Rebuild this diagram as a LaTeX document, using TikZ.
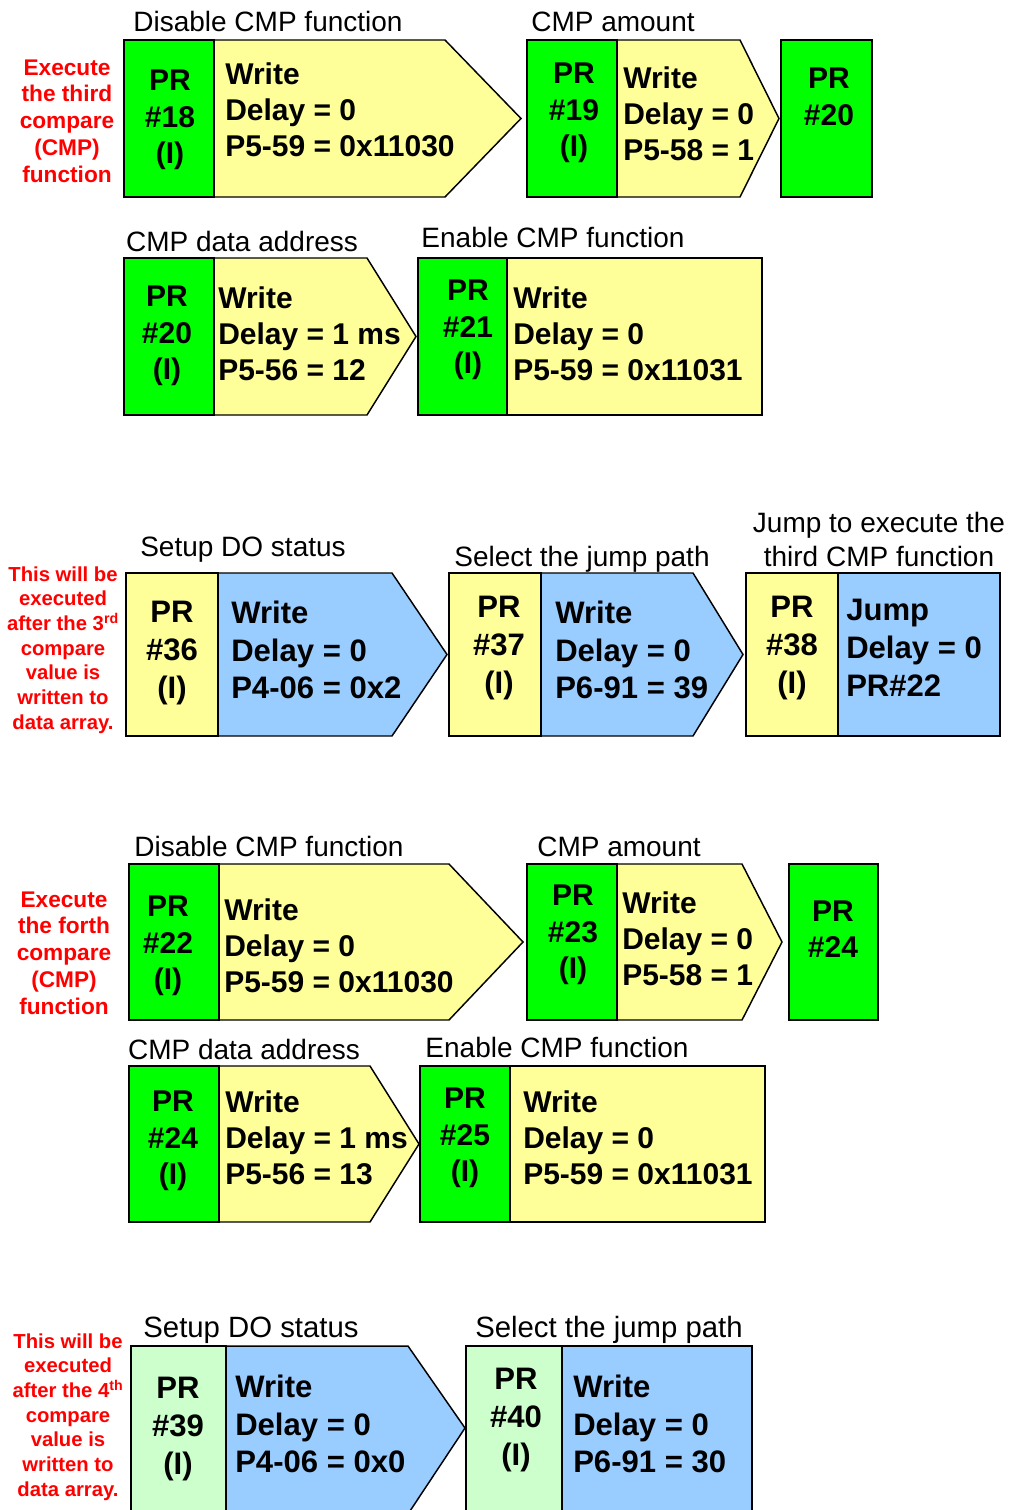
\documentclass[tikz,border=0pt]{standalone}
\usepackage{fontspec}
\setmainfont{Liberation Sans}
\definecolor{grn}{HTML}{00FF00}
\definecolor{yel}{HTML}{FFFF99}
\definecolor{blu}{HTML}{99CCFF}
\definecolor{lgr}{HTML}{CCFFCC}
\definecolor{redt}{HTML}{FF0000}
\begin{document}
\begin{tikzpicture}[x=0.75pt,y=-0.75pt,
  lab/.style={font=\fontsize{21}{25.5}\selectfont, inner sep=0pt, anchor=base},
  blab/.style={font=\fontsize{22}{26.5}\selectfont, inner sep=0pt, anchor=base},
  lab2/.style={font=\fontsize{21}{25.5}\selectfont, inner sep=0pt, align=center},
  prt/.style={font=\bfseries\fontsize{22.5}{27.5}\selectfont, align=center, inner sep=0pt},
  bod/.style={font=\bfseries\fontsize{22.5}{27}\selectfont, align=left, inner sep=0pt, anchor=west},
  bprt/.style={font=\bfseries\fontsize{23.3}{28.8}\selectfont, align=center, inner sep=0pt},
  bbod/.style={font=\bfseries\fontsize{23.3}{28.3}\selectfont, align=left, inner sep=0pt, anchor=west},
  rtxt/.style={text=redt, font=\bfseries\fontsize{17}{20.1}\selectfont, align=center, inner sep=0pt},
  rsm/.style={text=redt, font=\bfseries\fontsize{15.2}{18.5}\selectfont, align=center, inner sep=0pt},
  bx/.style={draw=black, line width=1.1pt, line join=miter}]
\useasboundingbox (0,0) rectangle (1009,1510);

% ---------- Section 1 ----------
\node[rtxt] (red1) at (67,121) {Execute\\the third\\compare\\(CMP)\\function};
\node[lab] (lab1) at (268,31) {Disable CMP function};
\node[lab] (lab2) at (613,31) {CMP amount};
\filldraw[bx, fill=yel] (214,40) -- (445,40) -- (521,118.5) -- (445,197) -- (214,197) -- cycle;
\filldraw[bx, fill=grn] (124,40) rectangle (214,197);
\node[prt] (pr18) at (170,120) {PR\\\#18\\(I)};
\node[bod] (b18) at (225,110) {Write\\Delay = 0\\P5-59 = 0x11030};
\filldraw[bx, fill=yel] (617,40) -- (740,40) -- (779,118.5) -- (740,197) -- (617,197) -- cycle;
\filldraw[bx, fill=grn] (527,40) rectangle (617,197);
\node[prt] (pr19) at (574,113) {PR\\\#19\\(I)};
\node[bod] (b19) at (623,114) {Write\\Delay = 0\\P5-58 = 1};
\filldraw[bx, fill=grn] (781,40) rectangle (872,197);
\node[prt] (pr20a) at (829,97) {PR\\\#20};

% ---------- Section 2 ----------
\node[lab] (lab3) at (242,251) {CMP data address};
\node[lab] (lab4) at (553,247) {Enable CMP function};
\filldraw[bx, fill=yel] (214,258) -- (367,258) -- (416,336.5) -- (367,415) -- (214,415) -- cycle;
\filldraw[bx, fill=grn] (124,258) rectangle (214,415);
\node[prt] (pr20b) at (167,336) {PR\\\#20\\(I)};
\node[bod] (b20) at (218,334) {Write\\Delay = 1 ms\\P5-56 = 12};
\filldraw[bx, fill=yel] (507,258) rectangle (762,415);
\filldraw[bx, fill=grn] (418,258) rectangle (507,415);
\node[prt] (pr21) at (468,330) {PR\\\#21\\(I)};
\node[bod] (b21) at (513,334) {Write\\Delay = 0\\P5-59 = 0x11031};

% ---------- Section 3 ----------
\node[rsm] (red2) at (63,650) {This will be\\executed\\after the 3\textsuperscript{rd}\\compare\\value is\\written to\\data array.};
\node[lab] (lab5) at (243,556) {Setup DO status};
\node[lab] (lab6) at (582,566) {Select the jump path};
\node[lab2] (lab7) at (879,539) {Jump to execute the\\third CMP function};
\filldraw[bx, fill=blu] (218,573) -- (392,573) -- (447,654.5) -- (392,736) -- (218,736) -- cycle;
\filldraw[bx, fill=yel] (126,573) rectangle (218,736);
\node[bprt] (pr36) at (172,653) {PR\\\#36\\(I)};
\node[bbod] (b36) at (231,650) {Write\\Delay = 0\\P4-06 = 0x2};
\filldraw[bx, fill=blu] (541,573) -- (693,573) -- (743,654.5) -- (693,736) -- (541,736) -- cycle;
\filldraw[bx, fill=yel] (449,573) rectangle (541,736);
\node[bprt] (pr37) at (499,648) {PR\\\#37\\(I)};
\node[bbod] (b37) at (555,650) {Write\\Delay = 0\\P6-91 = 39};
\filldraw[bx, fill=blu] (838,573) rectangle (1000,736);
\filldraw[bx, fill=yel] (746,573) rectangle (838,736);
\node[bprt] (pr38) at (792,648) {PR\\\#38\\(I)};
\node[bbod] (b38) at (846,648) {Jump\\Delay = 0\\PR\#22};

% ---------- Section 4 ----------
\node[rtxt] (red3) at (64,953) {Execute\\the forth\\compare\\(CMP)\\function};
\node[lab] (lab8) at (269,856) {Disable CMP function};
\node[lab] (lab9) at (619,856) {CMP amount};
\filldraw[bx, fill=yel] (219,864) -- (449,864) -- (523,942) -- (449,1020) -- (219,1020) -- cycle;
\filldraw[bx, fill=grn] (129,864) rectangle (219,1020);
\node[prt] (pr22) at (168,946) {PR\\\#22\\(I)};
\node[bod] (b22) at (224,946) {Write\\Delay = 0\\P5-59 = 0x11030};
\filldraw[bx, fill=yel] (617,864) -- (742,864) -- (782,942) -- (742,1020) -- (617,1020) -- cycle;
\filldraw[bx, fill=grn] (527,864) rectangle (617,1020);
\node[prt] (pr23) at (573,935) {PR\\\#23\\(I)};
\node[bod] (b23) at (622,939) {Write\\Delay = 0\\P5-58 = 1};
\filldraw[bx, fill=grn] (789,864) rectangle (878,1020);
\node[prt] (pr24a) at (833,929) {PR\\\#24};

% ---------- Section 5 ----------
\node[lab] (lab10) at (244,1059) {CMP data address};
\node[lab] (lab11) at (557,1057) {Enable CMP function};
\filldraw[bx, fill=yel] (219,1066) -- (370,1066) -- (419,1144) -- (370,1222) -- (219,1222) -- cycle;
\filldraw[bx, fill=grn] (129,1066) rectangle (219,1222);
\node[prt] (pr24b) at (173,1141) {PR\\\#24\\(I)};
\node[bod] (b24) at (225,1138) {Write\\Delay = 1 ms\\P5-56 = 13};
\filldraw[bx, fill=yel] (510,1066) rectangle (765,1222);
\filldraw[bx, fill=grn] (420,1066) rectangle (510,1222);
\node[prt] (pr25) at (465,1138) {PR\\\#25\\(I)};
\node[bod] (b25) at (523,1138) {Write\\Delay = 0\\P5-59 = 0x11031};

% ---------- Section 6 ----------
\node[rsm] (red4) at (68,1417) {This will be\\executed\\after the 4\textsuperscript{th}\\compare\\value is\\written to\\data array.};
\node[blab] (lab12) at (251,1337) {Setup DO status};
\node[blab] (lab13) at (609,1337) {Select the jump path};
\filldraw[bx, fill=blu] (226,1346) -- (408,1346) -- (465,1428) -- (408,1514) -- (226,1514) -- cycle;
\filldraw[bx, fill=lgr] (131,1346) rectangle (226,1514);
\node[bprt] (pr39) at (178,1429) {PR\\\#39\\(I)};
\node[bbod] (b39) at (235,1424) {Write\\Delay = 0\\P4-06 = 0x0};
\filldraw[bx, fill=blu] (562,1346) rectangle (752,1514);
\filldraw[bx, fill=lgr] (466,1346) rectangle (562,1514);
\node[bprt] (pr40) at (516,1420) {PR\\\#40\\(I)};
\node[bbod] (b40) at (573,1424) {Write\\Delay = 0\\P6-91 = 30};
\end{tikzpicture}
\end{document}
